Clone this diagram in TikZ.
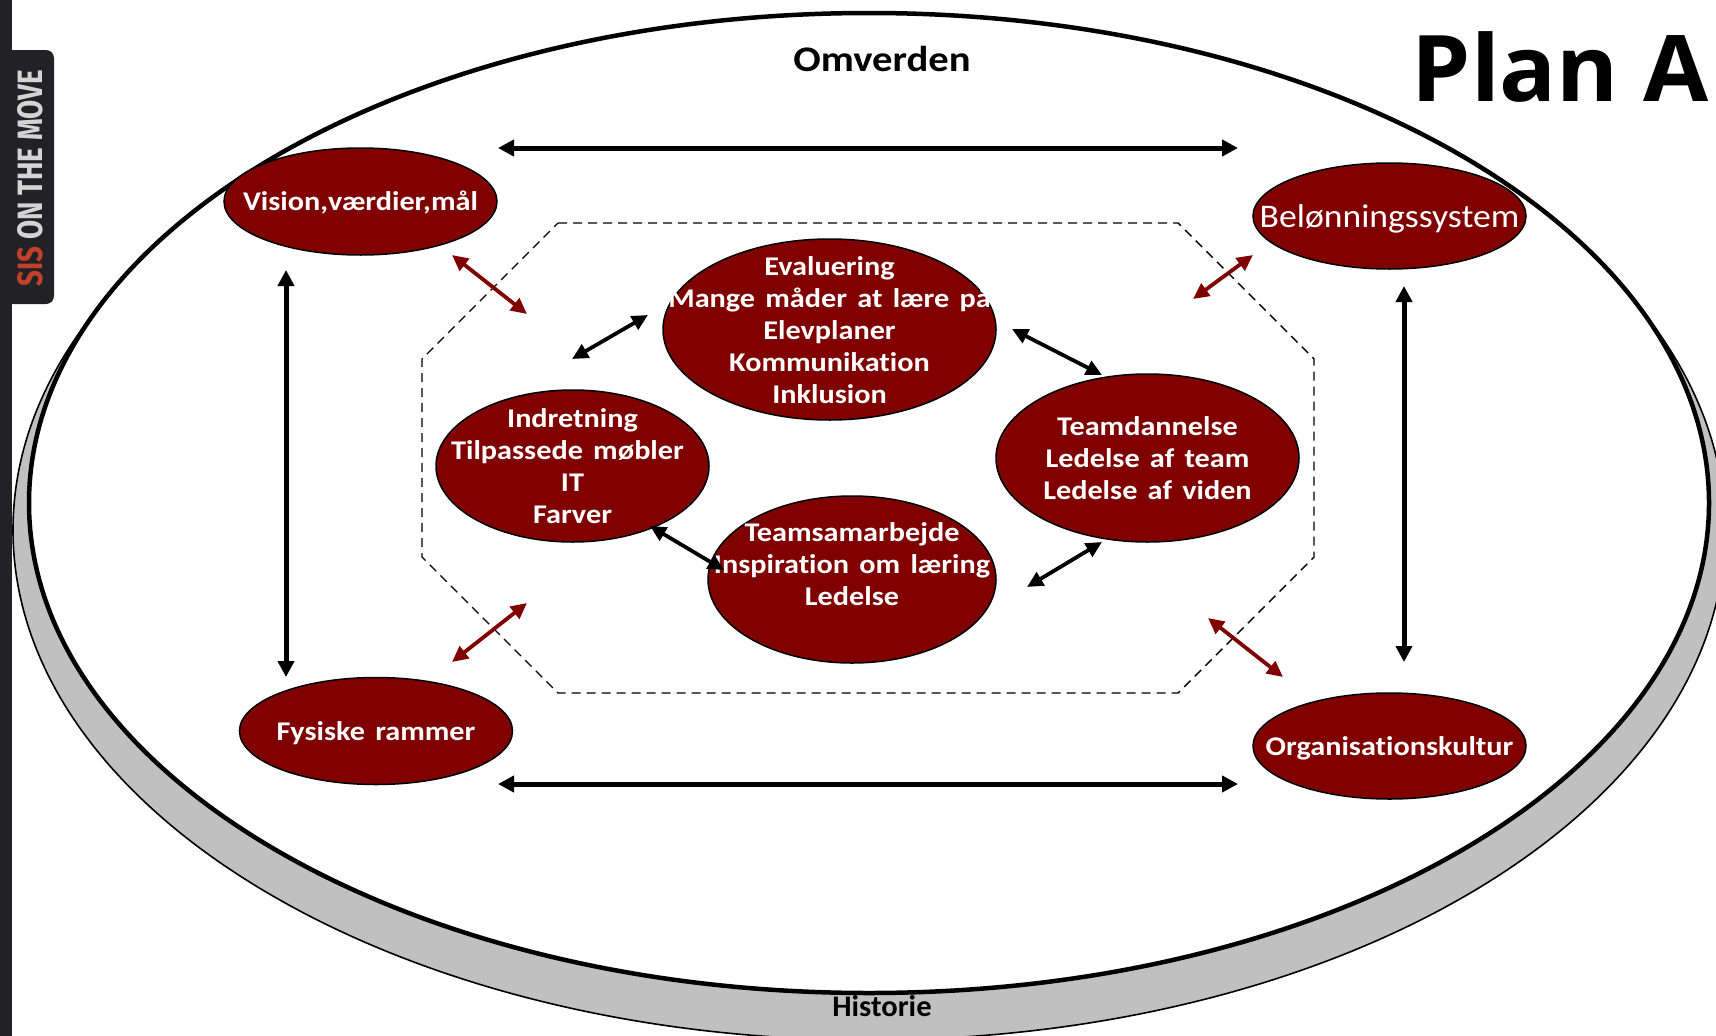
\documentclass[tikz,border=0pt]{standalone}
\usepackage{fontspec}
\usetikzlibrary{shapes.geometric,arrows.meta}
\setmainfont{Carlito}
\newfontfamily\bubfont[FakeStretch=1.12,WordSpace=1.5,Ligatures=NoCommon]{Carlito}
\newfontfamily\capfont[FakeStretch=1.13,Ligatures=NoCommon]{Carlito}
\newfontfamily\histfont[FakeStretch=1.02,Ligatures=NoCommon]{Carlito}
\newfontfamily\belfont[FakeStretch=1.08,Ligatures=NoCommon]{Carlito}
\newfontfamily\titlefont[FakeStretch=1.027]{Open Sans}
\newfontfamily\barfont{Fira Sans}
\definecolor{maroonfill}{HTML}{800000}
\definecolor{historygray}{HTML}{C0C0C0}
\definecolor{bardark}{HTML}{222226}
\definecolor{barred}{HTML}{C0402A}
\definecolor{barlight}{HTML}{D4D4D4}
\tikzset{
  x=1pt,y=-1pt,
  bub/.style={ellipse,draw=black,line width=1.5pt,fill=maroonfill,inner sep=0pt},
  bubtext/.style={text=white,inner sep=0pt,align=center,font=\bubfont\bfseries\fontsize{27}{32}\selectfont},
  beltext/.style={text=white,inner sep=0pt,align=center,font=\belfont\fontsize{33}{36}\selectfont},
  bigarrow/.style={line width=5pt,{Triangle[length=16pt,width=16pt]}-{Triangle[length=16pt,width=16pt]}},
  midarrow/.style={line width=3.8pt,{Triangle[length=16pt,width=15pt]}-{Triangle[length=16pt,width=15pt]}},
  redarrow/.style={midarrow,draw=maroonfill,color=maroonfill},
  omvcap/.style={font=\capfont\bfseries\fontsize{36}{38}\selectfont,inner sep=0pt},
  histcap/.style={font=\histfont\bfseries\fontsize{30}{34}\selectfont,inner sep=0pt}
}
\begin{document}
\begin{tikzpicture}
\useasboundingbox (0,0) rectangle (1716,1036);
\fill[white] (0,0) rectangle (1716,1036);
\begin{scope}
\clip (0,0) rectangle (1716,1036);
\path[fill=historygray,draw=black,line width=1.6pt] (869,530) ellipse [x radius=856,y radius=510];
\node[histcap] (historie) at (882,1006) {Historie};
\path[fill=white,draw=black,line width=4.5pt] (869,503) ellipse [x radius=840,y radius=490];
\end{scope}
% side bar
\fill[bardark] (0,0) rectangle (12,1036);
\fill[bardark,rounded corners=8pt] (5,50) -- (54,50) -- (54,304) -- (5,304) -- cycle;
\node[rotate=90,inner sep=0pt] (sidebar) at (30,178) {\resizebox{216pt}{25pt}{\barfont\bfseries\textcolor{barred}{SIS} \textcolor{barlight}{ON THE MOVE}}};
% dashed octagon
\draw[dash pattern=on 9pt off 6pt,line width=1.4pt] (558,223) -- (1178,223) -- (1314,359) -- (1314,557) -- (1178,693) -- (558,693) -- (422,557) -- (422,359) -- cycle;
% texts
\node[omvcap] (omverden) at (882,59) {Omverden};
\node[font=\titlefont\bfseries\fontsize{92}{96}\selectfont,inner sep=0pt,anchor=base east] (title) at (1709,101) {Plan A};
% bubbles
\node[bub,minimum width=273pt,minimum height=107pt,label={[bubtext,yshift=-1pt]center:Vision,værdier,mål}] (vision) at (360.5,201.5) {};
\node[bub,minimum width=273pt,minimum height=106pt,label={[beltext,yshift=-3pt]center:Belønningssystem}] (beloen) at (1389.5,216) {};
\node[bub,minimum width=273pt,minimum height=107pt,label={[bubtext,yshift=-2pt]center:Fysiske rammer}] (fysiske) at (376,731) {};
\node[bub,minimum width=273pt,minimum height=106pt,label={[bubtext,yshift=-2pt]center:Organisationskultur}] (organ) at (1389.5,746) {};
\node[bub,minimum width=333pt,minimum height=181pt,label={[bubtext,yshift=-1pt]center:{Evaluering\\Mange måder at lære på\\Elevplaner\\Kommunikation\\Inklusion}}] (evaluering) at (829.5,329.5) {};
\node[bub,minimum width=273pt,minimum height=152pt,label={[bubtext]center:{Indretning\\Tilpassede møbler\hspace*{10pt}\mbox{}\\IT\\Farver}}] (indretning) at (572.5,466) {};
\node[bub,minimum width=303pt,minimum height=168pt,label={[bubtext]center:{Teamdannelse\\Ledelse af team\\Ledelse af viden}}] (teamd) at (1147.5,458) {};
\node[bub,minimum width=288pt,minimum height=167pt,label={[bubtext,yshift=15pt]center:{Teamsamarbejde\\Inspiration om læring\\Ledelse}}] (teams) at (852,579.5) {};
% connectors
\draw[bigarrow] ([shift={(137.5,-53.5)}]vision.center) -- ([shift={(-151.5,-68)}]beloen.center);
\draw[bigarrow] ([shift={(122,53)}]fysiske.center) -- ([shift={(-151.5,38)}]organ.center);
\draw[bigarrow] ([shift={(-74.5,68.5)}]vision.center) -- ([shift={(-90,-54)}]fysiske.center);
\draw[bigarrow] ([shift={(14.5,70)}]beloen.center) -- ([shift={(14.5,-84)}]organ.center);
\draw[redarrow] ([shift={(91.5,53.5)}]vision.center) -- ([shift={(-302.5,-15.5)}]evaluering.center);
\draw[redarrow] ([shift={(-136.5,39)}]beloen.center) -- ([shift={(45.5,-159)}]teamd.center);
\draw[redarrow] ([shift={(76,-69)}]fysiske.center) -- ([shift={(-45.5,137)}]indretning.center);
\draw[redarrow] ([shift={(-181.5,-128)}]organ.center) -- ([shift={(-106.5,-69)}]organ.center);
\draw[midarrow] ([shift={(-0.5,-107)}]indretning.center) -- ([shift={(-181.5,-14.5)}]evaluering.center);
\draw[midarrow] ([shift={(182.5,-0.5)}]evaluering.center) -- ([shift={(-45.5,-83)}]teamd.center);
\draw[midarrow] ([shift={(-45.5,84)}]teamd.center) -- ([shift={(175,7.5)}]teams.center);
\draw[midarrow] ([shift={(77.5,60)}]indretning.center) -- ([shift={(-128,-9.5)}]teams.center);
\end{tikzpicture}
\end{document}
